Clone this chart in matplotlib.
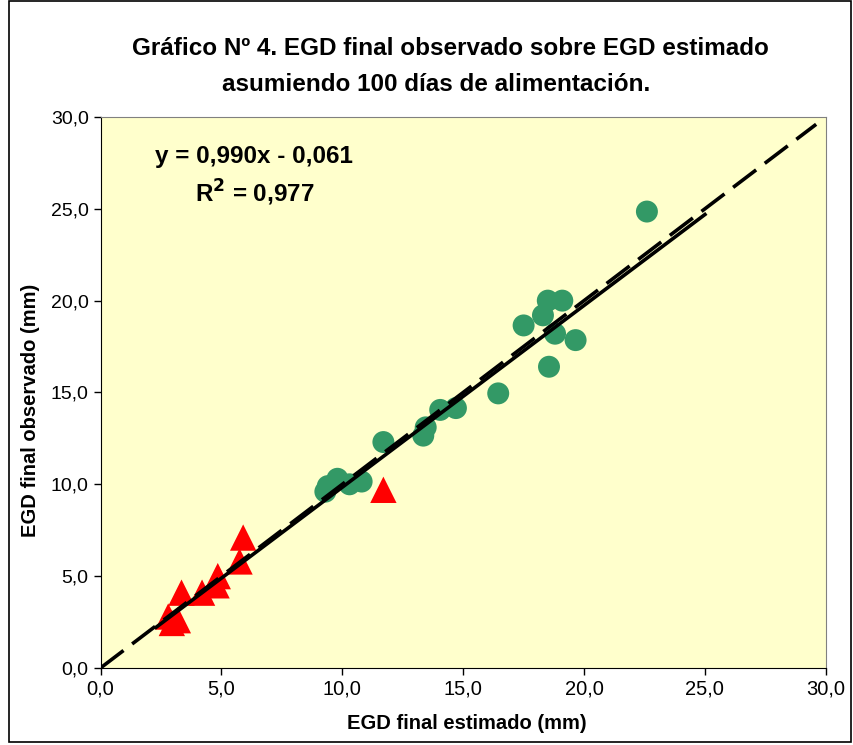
import matplotlib.pyplot as plt
import numpy as np
from matplotlib.patches import Rectangle

# --- Datos (mm) ---
# Círculos verdes
est_circ = [22.6, 18.5, 19.1, 18.3, 17.5, 18.8, 19.65, 18.55, 16.45, 14.7, 14.05,
            13.45, 13.35, 11.7, 10.8, 10.3, 9.8, 9.4, 9.3]
obs_circ = [24.85, 20.0, 20.0, 19.2, 18.65, 18.2, 17.85, 16.4, 14.95, 14.15, 14.05,
            13.1, 12.65, 12.3, 10.15, 10.0, 10.3, 9.9, 9.6]

# Triángulos rojos
est_tri = [11.7, 5.9, 5.75, 4.85, 4.8, 4.2, 3.35, 2.8, 2.95, 3.2]
obs_tri = [9.7, 7.1, 5.8, 5.0, 4.5, 4.1, 4.1, 2.8, 2.45, 2.6]

# Recta de regresión y = 0,990x - 0,061
pendiente, intercepto = 0.990, -0.061
x_trend = np.array([2.3, 25.0])
# Recta 1:1
x_ident = np.array([0.0, 29.6])

ticks = np.arange(0, 31, 5)
tick_labels = [f'{t:.1f}'.replace('.', ',') for t in ticks]

plt.rcParams['font.family'] = ['Liberation Sans', 'DejaVu Sans']

fig = plt.figure(figsize=(8.54, 7.45), dpi=100)
ax = fig.add_axes([0.1177, 0.1034, 0.8493, 0.7396])
ax.set_facecolor('#FFFFCC')

ax.scatter(est_circ, obs_circ, s=250, color='#339966', edgecolors='none', zorder=2)
ax.scatter(est_tri, obs_tri, s=360, marker='^', color='#FF0000', edgecolors='none', zorder=2)

ax.plot(x_trend, pendiente * x_trend + intercepto, color='black', linewidth=2.6, zorder=3)
ax.plot(x_ident, x_ident, color='black', linewidth=2.6, linestyle=(0, (8, 3)), zorder=3)

ax.set_xlim(0, 30)
ax.set_ylim(0, 30)
ax.set_xticks(ticks)
ax.set_yticks(ticks)
ax.set_xticklabels(tick_labels, fontsize=14.5)
ax.set_yticklabels(tick_labels, fontsize=14)
ax.tick_params(direction='out', length=5, width=1, colors='black')

for s in ['left', 'bottom']:
    ax.spines[s].set_color('black')
for s in ['top', 'right']:
    ax.spines[s].set_color('#808080')

ax.set_xlabel('EGD final estimado (mm)', fontsize=14.5, fontweight='bold')
ax.set_ylabel('EGD final observado (mm)', fontsize=14.5, fontweight='bold')
ax.xaxis.set_label_coords(0.505, -0.084)
ax.yaxis.set_label_coords(-0.083, 0.468)

ax.text(0.212, 0.929, 'y = 0,990x - 0,061', transform=ax.transAxes, ha='center',
        va='center', fontsize=17.5, fontweight='bold')
ax.text(0.213, 0.862, r'R$^\mathbf{2}$ = 0,977', transform=ax.transAxes, ha='center',
        va='center', fontsize=17.5, fontweight='bold')

fig.text(0.527, 0.935, 'Gráfico Nº 4. EGD final observado sobre EGD estimado',
         ha='center', va='center', fontsize=17.5, fontweight='bold')
fig.text(0.511, 0.886, 'asumiendo 100 días de alimentación.',
         ha='center', va='center', fontsize=17.5, fontweight='bold')

# Marco exterior del gráfico
fig.patches.append(Rectangle((0.010, 0.004), 0.987, 0.994, transform=fig.transFigure,
                             fill=False, edgecolor='black', linewidth=1.2))

plt.savefig('out.png', dpi=100)
